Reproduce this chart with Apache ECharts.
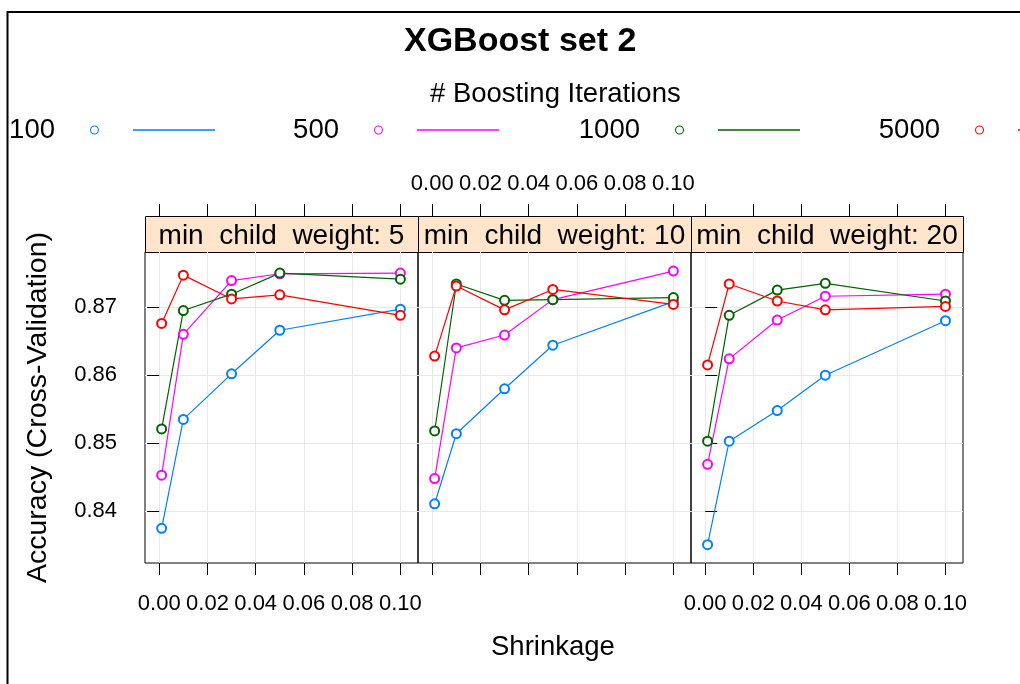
<!DOCTYPE html>
<html>
<head>
<meta charset="utf-8">
<script src="https://cdn.jsdelivr.net/npm/echarts@6.0.0/dist/echarts.min.js"></script>
<style>
html,body{margin:0;padding:0;background:#ffffff;}
#chart{width:1020px;height:684px;}
</style>
</head>
<body>
<div id="chart"></div>
<script>
// ---------------- data ----------------
const shrinkage = [0.001, 0.01, 0.03, 0.05, 0.1];
const iterations = ['100', '500', '1000', '5000'];
const minChildWeight = [5, 10, 20];
const xTickValues = [0, 0.02, 0.04, 0.06, 0.08, 0.1];
const yTickValues = [0.84, 0.85, 0.86, 0.87];

// accuracy (cross-validation) per min_child_weight panel and boosting iterations
const mcw5_iter100  = [0.8375, 0.8535, 0.8602, 0.8666, 0.8697];
const mcw5_iter500  = [0.8453, 0.8660, 0.8739, 0.8749, 0.8750];
const mcw5_iter1000 = [0.8521, 0.8695, 0.8719, 0.8750, 0.8741];
const mcw5_iter5000 = [0.8676, 0.8747, 0.8712, 0.8718, 0.8688];

const mcw10_iter100  = [0.8411, 0.8514, 0.8580, 0.8644, 0.8708];
const mcw10_iter500  = [0.8448, 0.8640, 0.8659, 0.8711, 0.8753];
const mcw10_iter1000 = [0.8518, 0.8734, 0.8710, 0.8711, 0.8714];
const mcw10_iter5000 = [0.8628, 0.8731, 0.8696, 0.8726, 0.8704];

const mcw20_iter100  = [0.8351, 0.8503, 0.8548, 0.8600, 0.8680];
const mcw20_iter500  = [0.8469, 0.8624, 0.8681, 0.8716, 0.8719];
const mcw20_iter1000 = [0.8503, 0.8688, 0.8725, 0.8735, 0.8709];
const mcw20_iter5000 = [0.8615, 0.8734, 0.8709, 0.8696, 0.8701];

const panelSeries = [
  [mcw5_iter100, mcw5_iter500, mcw5_iter1000, mcw5_iter5000],
  [mcw10_iter100, mcw10_iter500, mcw10_iter1000, mcw10_iter5000],
  [mcw20_iter100, mcw20_iter500, mcw20_iter1000, mcw20_iter5000]
];

// ---------------- style / layout ----------------
const COLORS = ['#0080ff', '#ff00ff', '#006400', '#ff0000'];
const FONT = "'Liberation Sans', Arial, sans-serif";
const X_MIN = -0.0059, X_MAX = 0.1073;
const Y_MIN = 0.8324, Y_MAX = 0.8781;
const PANEL_LEFT = [145, 418, 691];
const PANEL_W = [273, 273, 272];
const PANEL_TOP = 252, PANEL_H = 311, STRIP_H = 36;
const GRID_COLOR = '#e8e8e8';
const LEGEND_RIGHT = [805, 521, 220, -80];
// icon: open circle + line segment (legend key)
const KEY_ICON = 'path://M0 4.5A4.5 4.5 0 1 0 9 4.5A4.5 4.5 0 1 0 0 4.5Z' +
  'M1.1 4.5A3.4 3.4 0 1 1 7.9 4.5A3.4 3.4 0 1 1 1.1 4.5Z' +
  'M43 3.8L125 3.8L125 5.2L43 5.2Z';

const fmt2 = v => Number(v).toFixed(2);

const grids = PANEL_LEFT.map((l, p) => ({
  left: l, top: PANEL_TOP, width: PANEL_W[p], height: PANEL_H,
  show: true, borderColor: '#000', borderWidth: 1, backgroundColor: 'transparent',
  containLabel: false, outerBoundsMode: 'none'
}));

const xAxes = [];
const yAxes = [];
PANEL_LEFT.forEach((l, p) => {
  xAxes.push({
    type: 'value', gridIndex: p, position: 'bottom', min: X_MIN, max: X_MAX,
    axisLine: { show: false },
    axisTick: { show: true, inside: false, length: 12, lineStyle: { color: '#000', width: 1 }, customValues: xTickValues },
    axisLabel: { show: p !== 1, customValues: xTickValues, formatter: fmt2, fontSize: 22, color: '#000', fontFamily: FONT, margin: 30 },
    splitLine: { show: true, lineStyle: { color: GRID_COLOR, width: 1 } }
  });
  xAxes.push({
    type: 'value', gridIndex: p, position: 'top', offset: STRIP_H, min: X_MIN, max: X_MAX,
    axisLine: { show: false },
    axisTick: { show: true, inside: false, length: 12, lineStyle: { color: '#000', width: 1 }, customValues: xTickValues },
    axisLabel: { show: p === 1, customValues: xTickValues, formatter: fmt2, fontSize: 22, color: '#000', fontFamily: FONT, margin: 21 },
    splitLine: { show: false }
  });
  yAxes.push({
    type: 'value', gridIndex: p, position: 'left', min: Y_MIN, max: Y_MAX,
    name: p === 0 ? 'Accuracy (Cross-Validation)' : '',
    nameLocation: 'middle', nameGap: 92,
    nameTextStyle: { fontSize: 28.5, color: '#000', fontFamily: FONT },
    axisLine: { show: false },
    axisTick: { show: p === 0, inside: false, length: 12, lineStyle: { color: '#000', width: 1 }, customValues: yTickValues },
    axisLabel: { show: p === 0, customValues: yTickValues, formatter: fmt2, fontSize: 22, color: '#000', fontFamily: FONT, margin: 28 },
    splitLine: { show: true, lineStyle: { color: GRID_COLOR, width: 1 } }
  });
  yAxes.push({
    type: 'value', gridIndex: p, position: 'right', min: Y_MIN, max: Y_MAX,
    axisLine: { show: false },
    axisTick: { show: p === 2, inside: false, length: 12, lineStyle: { color: '#000', width: 1 }, customValues: yTickValues },
    axisLabel: { show: false },
    splitLine: { show: false }
  });
});

const series = [];
panelSeries.forEach((panel, p) => {
  panel.forEach((vals, k) => {
    series.push({
      type: 'line', name: iterations[k],
      xAxisIndex: p * 2, yAxisIndex: p * 2,
      data: shrinkage.map((x, i) => [x, vals[i]]),
      symbol: 'emptyCircle', symbolSize: 9,
      lineStyle: { color: COLORS[k], width: 1.2 },
      itemStyle: { color: COLORS[k], borderColor: COLORS[k], borderWidth: 1.1 },
      emphasis: { disabled: true },
      animation: false
    });
  });
});

const legends = iterations.map((name, k) => ({
  data: [{ name: name, icon: KEY_ICON,
           itemStyle: { color: COLORS[k], borderColor: COLORS[k], borderWidth: 0, opacity: 1 },
           lineStyle: { color: COLORS[k] } }],
  right: LEGEND_RIGHT[k], top: 116, align: 'right', orient: 'horizontal',
  itemWidth: 125, itemHeight: 9, padding: 0, selectedMode: false,
  itemStyle: { color: COLORS[k], borderColor: COLORS[k], borderWidth: 0 },
  textStyle: { fontSize: 27.5, color: '#000', fontFamily: FONT, padding: [0, 30, 0, 0] }
}));

const graphics = [
  { type: 'rect', shape: { x: 7.5, y: 12, width: 1200, height: 1000 }, style: { fill: 'none', stroke: '#000', lineWidth: 2 }, silent: true }
];
PANEL_LEFT.forEach((l, p) => {
  graphics.push({
    type: 'rect', shape: { x: l + 0.5, y: PANEL_TOP - STRIP_H + 0.5, width: PANEL_W[p], height: STRIP_H },
    style: { fill: '#ffe5cc', stroke: '#000', lineWidth: 1 }, silent: true
  });
  graphics.push({
    type: 'text', x: l + PANEL_W[p] / 2, y: 236.5,
    style: { text: 'min  child  weight: ' + minChildWeight[p], fontSize: 28, fontFamily: FONT, fill: '#000', align: 'center', verticalAlign: 'middle' },
    silent: true
  });
});

const option = {
  backgroundColor: '#ffffff',
  animation: false,
  title: [
    { text: 'XGBoost set 2', left: 404, top: 25, padding: 0, textStyle: { fontSize: 34, fontWeight: 'bold', color: '#000', fontFamily: FONT } },
    { text: '# Boosting Iterations', left: 430, top: 80, padding: 0, textStyle: { fontSize: 27.5, fontWeight: 'normal', color: '#000', fontFamily: FONT } },
    { text: 'Shrinkage', left: 491, top: 633, padding: 0, textStyle: { fontSize: 27.5, fontWeight: 'normal', color: '#000', fontFamily: FONT } }
  ],
  legend: legends,
  grid: grids,
  xAxis: xAxes,
  yAxis: yAxes,
  series: series,
  graphic: graphics
};

const chart = echarts.init(document.getElementById('chart'), null, { renderer: 'canvas' });
chart.setOption(option);
</script>
</body>
</html>
